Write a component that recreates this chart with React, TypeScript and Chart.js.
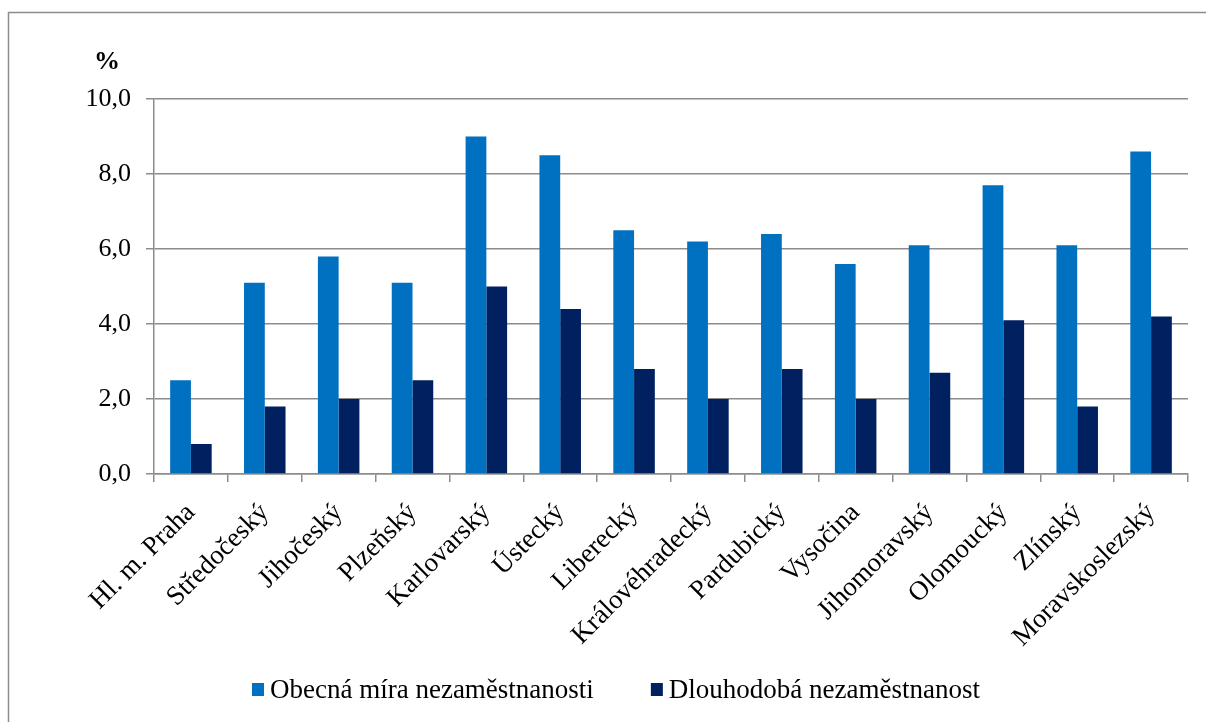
import React, { useEffect, useRef } from "react";
import { Chart, registerables } from "chart.js";

Chart.register(...registerables);

// Kraje ČR
const regions = [
  "Hl. m. Praha",
  "Středočeský",
  "Jihočeský",
  "Plzeňský",
  "Karlovarský",
  "Ústecký",
  "Liberecký",
  "Královéhradecký",
  "Pardubický",
  "Vysočina",
  "Jihomoravský",
  "Olomoucký",
  "Zlínský",
  "Moravskoslezský",
];

// Obecná míra nezaměstnanosti (%)
const generalRate = [2.5, 5.1, 5.8, 5.1, 9.0, 8.5, 6.5, 6.2, 6.4, 5.6, 6.1, 7.7, 6.1, 8.6];

// Dlouhodobá nezaměstnanost (%)
const longTermRate = [0.8, 1.8, 2.0, 2.5, 5.0, 4.4, 2.8, 2.0, 2.8, 2.0, 2.7, 4.1, 1.8, 4.2];

const seriesLabels = ["Obecná míra nezaměstnanosti", "Dlouhodobá nezaměstnanost"];
const seriesColors = ["#0070C0", "#002060"];
const yTicks = { min: 0, max: 10, step: 2 };
const unitLabel = "%";

const FONT = '"Liberation Serif", "Times New Roman", serif';
const GRID = "#8c8c8c";

// Frame around the whole chart object
const framePlugin = {
  id: "frame",
  beforeDraw(chart: any) {
    const ctx = chart.ctx;
    ctx.save();
    ctx.strokeStyle = GRID;
    ctx.lineWidth = 1.5;
    ctx.beginPath();
    ctx.moveTo(8.5, chart.height);
    ctx.lineTo(8.5, 12.5);
    ctx.lineTo(chart.width, 12.5);
    ctx.stroke();
    ctx.restore();
  },
};

// Unit caption above the value axis
const unitPlugin = {
  id: "unitCaption",
  afterDraw(chart: any) {
    const { ctx, chartArea } = chart;
    ctx.save();
    ctx.font = `bold 26px ${FONT}`;
    ctx.fillStyle = "#000";
    ctx.textAlign = "center";
    ctx.textBaseline = "middle";
    ctx.fillText(unitLabel, chartArea.left - 47, chartArea.top - 37);
    ctx.restore();
  },
};

// Legend row under the category labels: square swatch + series name
const legendRowPlugin = {
  id: "legendRow",
  afterDraw(chart: any) {
    const { ctx } = chart;
    const datasets = chart.data.datasets;
    const box = 12;
    const gapBoxText = 6;
    const gapItems = 57;
    const centerX = 616;
    const y = 690;
    ctx.save();
    ctx.font = `27px ${FONT}`;
    const widths = datasets.map((d: any) => ctx.measureText(d.label).width);
    const total =
      widths.reduce((s: number, w: number) => s + w + box + gapBoxText, 0) +
      gapItems * (datasets.length - 1);
    let x = centerX - total / 2;
    ctx.textBaseline = "middle";
    ctx.textAlign = "left";
    datasets.forEach((d: any, i: number) => {
      ctx.fillStyle = d.backgroundColor;
      ctx.fillRect(x, y - 7, box, 13);
      x += box + gapBoxText;
      ctx.fillStyle = "#000";
      ctx.fillText(d.label, x, y + 1);
      x += widths[i] + gapItems;
    });
    ctx.restore();
  },
};

export default function App() {
  const canvasRef = useRef<HTMLCanvasElement | null>(null);

  useEffect(() => {
    if (!canvasRef.current) return;
    const chart = new Chart(canvasRef.current, {
      type: "bar",
      data: {
        labels: regions,
        datasets: [
          {
            label: seriesLabels[0],
            data: generalRate,
            backgroundColor: seriesColors[0],
            categoryPercentage: 0.562,
            barPercentage: 1.0,
          },
          {
            label: seriesLabels[1],
            data: longTermRate,
            backgroundColor: seriesColors[1],
            categoryPercentage: 0.562,
            barPercentage: 1.0,
          },
        ],
      },
      options: {
        responsive: false,
        animation: false,
        layout: { padding: { left: 40, top: 99, right: 18, bottom: 58 } },
        plugins: {
          legend: { display: false },
          tooltip: { enabled: false },
        },
        scales: {
          x: {
            grid: {
              drawOnChartArea: false,
              drawTicks: true,
              tickLength: 8,
              color: GRID,
              lineWidth: 1.5,
              offset: true,
            },
            border: { color: GRID, width: 1.5 },
            ticks: {
              font: { family: FONT, size: 27 },
              color: "#000",
              minRotation: 45,
              maxRotation: 45,
              autoSkip: false,
              padding: 15,
            },
            afterFit(scale: any) {
              scale.height = 190;
            },
          },
          y: {
            min: yTicks.min,
            max: yTicks.max,
            grid: {
              color: GRID,
              lineWidth: 1.5,
              tickLength: 8,
            },
            border: { color: GRID, width: 1.5 },
            ticks: {
              stepSize: yTicks.step,
              font: { family: FONT, size: 26 },
              color: "#000",
              padding: 15,
              callback: (v: any) => Number(v).toFixed(1).replace(".", ","),
            },
            afterFit(scale: any) {
              scale.width = 114;
            },
          },
        },
      },
      plugins: [framePlugin, unitPlugin, legendRowPlugin],
    });
    return () => chart.destroy();
  }, []);

  return (
    <div style={{ position: "fixed", left: 0, top: 0, width: 1206, height: 722, background: "#fff" }}>
      <canvas ref={canvasRef} width={1206} height={722} style={{ display: "block" }} />
    </div>
  );
}
